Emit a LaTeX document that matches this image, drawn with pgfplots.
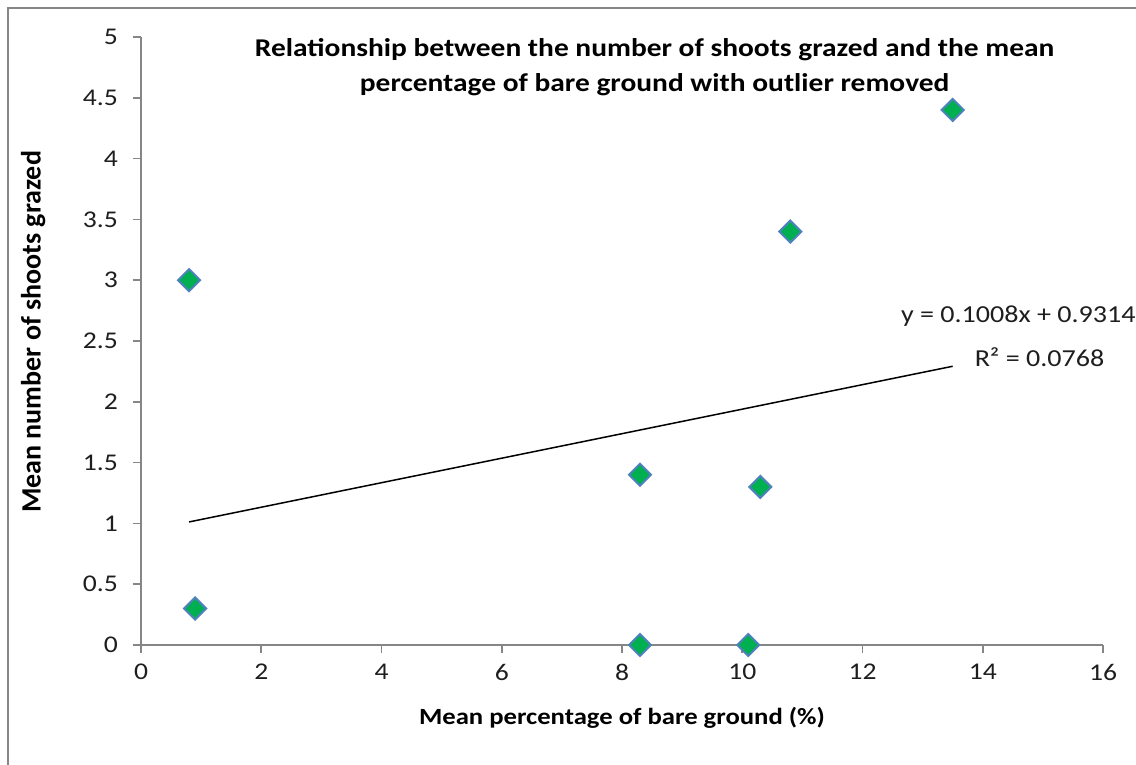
\documentclass[border=0pt]{standalone}
\usepackage{fontspec}
\setmainfont{Carlito}[FakeStretch=1.15]
\newfontfamily\plainfont{Carlito}
\usepackage{pgfplots}
\pgfplotsset{compat=1.18}
\definecolor{framegray}{RGB}{134,134,134}
\definecolor{mkgreen}{RGB}{0,176,80}
\definecolor{mkblue}{RGB}{79,129,189}
\definecolor{txt}{RGB}{30,30,30}
\begin{document}
\begin{tikzpicture}
% canvas: 1136 x 765 px at 0.5pt per px
\draw[framegray,line width=1pt] (4pt,0pt) -- (4pt,378.5pt) -- (568pt,378.5pt);
\begin{axis}[
  at={(70.5pt,60pt)}, anchor=origin,
  scale only axis,
  width=481pt, height=304pt,
  xmin=0, xmax=16, ymin=0, ymax=5,
  xtick={0,2,...,16},
  ytick={0,0.5,...,5},
  axis lines=left,
  axis line style={-, framegray, line width=0.8pt},
  tick style={framegray, line width=0.8pt},
  tick align=outside,
  major tick length=4pt,
  /pgf/number format/assume math mode=true,
  /pgf/number format/fixed,
  ticklabel style={font=\fontsize{12}{15}\selectfont, text=txt},
  yticklabel style={xshift=-4pt},
  xticklabel style={yshift=-2pt},
  xlabel={Mean percentage of bare ground (\%)},
  ylabel={Mean number of shoots grazed},
  xlabel style={at={(axis description cs:0.5,-0.12)}, anchor=center, font=\bfseries\fontsize{11.6}{14}\selectfont},
  ylabel style={at={(axis description cs:-0.112,0.515)}, anchor=center, font=\plainfont\bfseries\fontsize{14}{16}\selectfont},
  clip=false,
]
\addplot[black, line width=0.75pt] coordinates {(0.8,1.0120) (13.5,2.2922)};
\addplot[only marks, mark=square*, mark size=3.9pt,
  mark options={rotate=45, fill=mkgreen, draw=mkblue, line width=1pt}]
  coordinates {
  (0.8,3.0) (0.9,0.3) (8.3,1.4) (8.3,0.0) (10.1,0.0) (10.3,1.3) (10.8,3.4) (13.5,4.4)
  };
\node[align=center, font=\bfseries\fontsize{12.8}{17.5}\selectfont, text=black]
  at (rel axis cs:0.534,0.951) {Relationship between the number of shoots grazed and the mean\\percentage of bare ground with outlier removed};
\node[font=\fontsize{12.2}{14}\selectfont, text=txt] at (rel axis cs:0.912,0.541) {y = 0.1008x + 0.9314};
\node[font=\fontsize{12.2}{14}\selectfont, text=txt] at (rel axis cs:0.934,0.474) {R² = 0.0768};
\end{axis}
\pgfresetboundingbox
\path[use as bounding box] (0pt,0pt) rectangle (568pt,382.5pt);
\end{tikzpicture}
\end{document}
